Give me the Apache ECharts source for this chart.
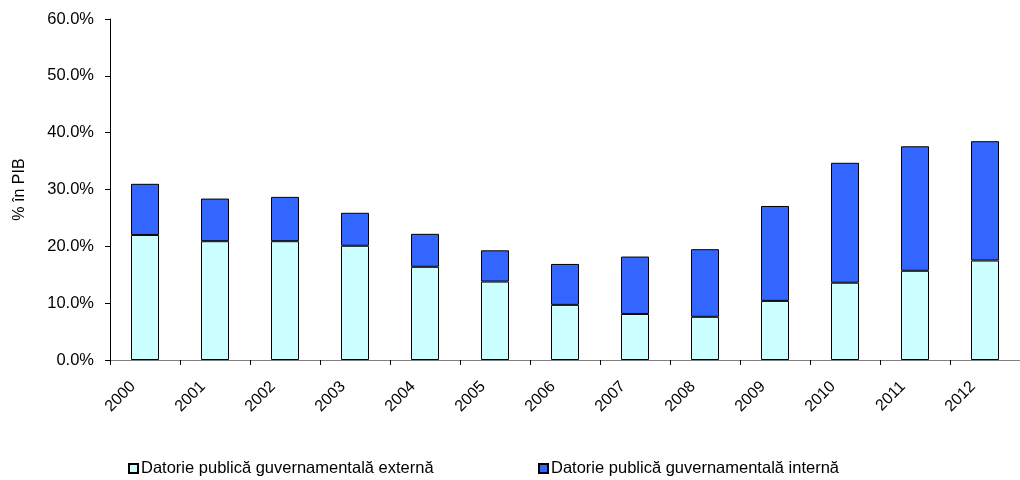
<!DOCTYPE html>
<html>
<head>
<meta charset="utf-8">
<script src="https://cdn.jsdelivr.net/npm/echarts@6/dist/echarts.min.js"></script>
<style>
  html, body { margin: 0; padding: 0; background: #fff; }
  #chart { width: 1020px; height: 480px; }
</style>
</head>
<body>
<div id="chart"></div>
<script>
// Public government debt, % of GDP
const years = ['2000', '2001', '2002', '2003', '2004', '2005', '2006', '2007', '2008', '2009', '2010', '2011', '2012'];
const externalDebt = [22.0, 20.9, 20.9, 20.1, 16.4, 13.8, 9.7, 8.1, 7.6, 10.4, 13.6, 15.7, 17.5];
const internalDebt = [9.0, 7.5, 7.8, 5.8, 5.8, 5.5, 7.2, 10.1, 11.9, 16.7, 21.1, 21.9, 21.0];
const seriesNames = ['Datorie publică guvernamentală externă', 'Datorie publică guvernamentală internă'];
const yTicks = [0, 10, 20, 30, 40, 50, 60];

const font = 'Liberation Sans, Arial, sans-serif';
const chart = echarts.init(document.getElementById('chart'), null, { renderer: 'canvas' });

const legendBase = {
  orient: 'horizontal',
  top: 460,
  padding: 0,
  itemWidth: 9,
  itemHeight: 9,
  itemGap: 5,
  icon: 'rect',
  textStyle: { fontFamily: font, fontSize: 16.5, color: '#000', padding: [0, 0, 0, -2] },
  selectedMode: false
};

chart.setOption({
  animation: false,
  backgroundColor: '#fff',
  grid: { left: 110, top: 19, width: 917, height: 341, containLabel: false },
  legend: [
    Object.assign({}, legendBase, { left: 128, data: [seriesNames[0]] }),
    Object.assign({}, legendBase, { left: 538, data: [seriesNames[1]] })
  ],
  xAxis: {
    type: 'category',
    data: years,
    boundaryGap: true,
    axisLine: { lineStyle: { color: '#808080', width: 1 } },
    axisTick: { show: true, alignWithLabel: false, length: 5, lineStyle: { color: '#000' } },
    axisLabel: {
      rotate: 45,
      interval: 0,
      margin: 12,
      padding: [0, 17, 0, 0],
      fontFamily: font,
      fontSize: 16,
      color: '#000'
    },
    splitLine: { show: false }
  },
  yAxis: {
    type: 'value',
    min: yTicks[0],
    max: yTicks[yTicks.length - 1],
    interval: 10,
    name: '% în PIB',
    nameLocation: 'middle',
    nameGap: 82,
    nameRotate: 90,
    nameTextStyle: { fontFamily: font, fontSize: 16, color: '#000' },
    axisLine: { show: true, lineStyle: { color: '#000', width: 1 } },
    axisTick: { show: true, length: 5, inside: false, lineStyle: { color: '#000' } },
    axisLabel: {
      margin: 16,
      fontFamily: font,
      fontSize: 16.5,
      color: '#000',
      formatter: v => v.toFixed(1) + '%'
    },
    splitLine: { show: false }
  },
  series: [
    {
      name: seriesNames[0],
      type: 'bar',
      stack: 'debt',
      data: externalDebt,
      barWidth: '40%',
      itemStyle: { color: '#CCFFFF', borderColor: '#000', borderWidth: 1 }
    },
    {
      name: seriesNames[1],
      type: 'bar',
      stack: 'debt',
      data: internalDebt,
      barWidth: '40%',
      itemStyle: { color: '#3366FF', borderColor: '#000', borderWidth: 1 }
    }
  ]
});
</script>
</body>
</html>
